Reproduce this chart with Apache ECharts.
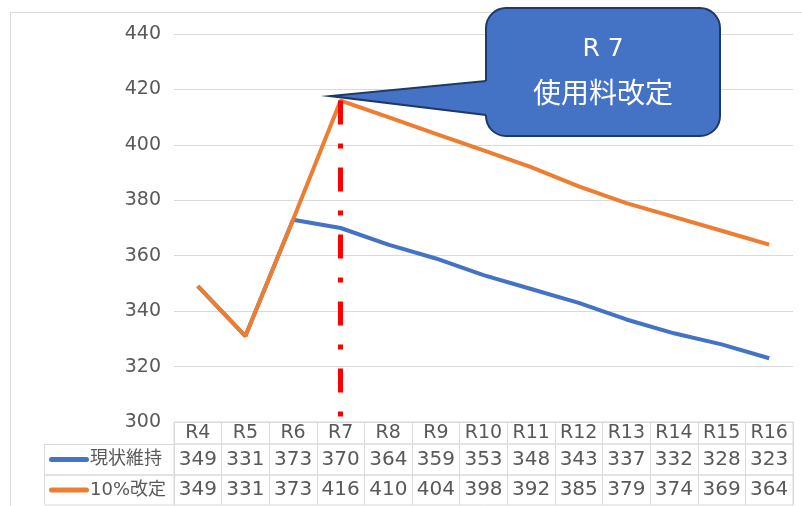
<!DOCTYPE html>
<html>
<head>
<meta charset="utf-8">
<script src="https://cdn.jsdelivr.net/npm/echarts@6/dist/echarts.min.js"></script>
<style>
  html, body { margin: 0; padding: 0; background: #fff; }
  #chart { width: 802px; height: 506px; }
</style>
</head>
<body>
<div id="chart"></div>
<script>
const categories = ['R4', 'R5', 'R6', 'R7', 'R8', 'R9', 'R10', 'R11', 'R12', 'R13', 'R14', 'R15', 'R16'];
const keepValues = [349, 331, 373, 370, 364, 359, 353, 348, 343, 337, 332, 328, 323];
const reviseValues = [349, 331, 373, 416, 410, 404, 398, 392, 385, 379, 374, 369, 364];
const seriesNames = ['現状維持', '10%改定'];
const seriesColors = ['#4472C4', '#ED7D31'];
const markCategory = 'R7';
const calloutLines = ['R 7', '使用料改定'];

const FONT = '"DejaVu Sans", "Noto Sans CJK JP", sans-serif';
const GRAY = '#595959';
const LINE = '#d9d9d9';
const NAVY = '#1F3864';

const chart = echarts.init(document.getElementById('chart'));

// table rows: header + one per series
function rowAxis(gridIndex, values, size, margin) {
  return {
    type: 'category', gridIndex: gridIndex, data: categories, boundaryGap: true,
    axisLine: {show: false}, axisTick: {show: false},
    splitLine: {show: true, interval: 0, lineStyle: {color: LINE, width: 1}},
    axisLabel: {
      interval: 0, margin: margin, verticalAlign: 'middle',
      color: GRAY, fontSize: size, fontFamily: FONT,
      formatter: (v, i) => String(values[i])
    }
  };
}

// left column of the table: legend key + series name
function rowLabelAxis(gridIndex, idx) {
  return {
    type: 'category', gridIndex: gridIndex, data: [seriesNames[idx]],
    axisLine: {show: false}, axisTick: {show: false},
    axisLabel: {
      margin: 125, align: 'left',
      formatter: (v) => '{key|}{t|' + v + '}',
      rich: {
        key: {width: 40, height: 5, backgroundColor: seriesColors[idx], borderRadius: 2.5},
        t: {fontSize: 18, color: GRAY, fontFamily: FONT, padding: [0, 0, 0, 1]}
      }
    }
  };
}

const hiddenY = (g) => ({type: 'value', gridIndex: g, show: false});

const option = {
  animation: false,
  grid: [
    {left: 174, right: 9, top: 34, bottom: 84},
    {left: 174, right: 9, top: 422, height: 22, show: true, borderColor: LINE, borderWidth: 1},
    {left: 174, right: 9, top: 444, height: 31, show: true, borderColor: LINE, borderWidth: 1},
    {left: 174, right: 9, top: 475, height: 30, show: true, borderColor: LINE, borderWidth: 1}
  ],
  xAxis: [
    {type: 'category', gridIndex: 0, data: categories, boundaryGap: true,
     axisLine: {show: false}, axisTick: {show: false}, axisLabel: {show: false}},
    rowAxis(1, categories, 19, -11),
    rowAxis(2, keepValues, 20, -15.5),
    rowAxis(3, reviseValues, 20, -15)
  ],
  yAxis: [
    {type: 'value', gridIndex: 0, min: 300, max: 440, interval: 20,
     axisLine: {show: false}, axisTick: {show: false},
     splitLine: {lineStyle: {color: LINE, width: 1}},
     axisLabel: {margin: 13, color: GRAY, fontSize: 19, fontFamily: FONT}},
    hiddenY(1),
    rowLabelAxis(2, 0),
    rowLabelAxis(3, 1)
  ],
  series: [
    {
      name: seriesNames[0], type: 'line', data: keepValues,
      symbol: 'none',
      lineStyle: {color: seriesColors[0], width: 4}
    },
    {
      name: seriesNames[1], type: 'line', data: reviseValues,
      symbol: 'none',
      lineStyle: {color: seriesColors[1], width: 4},
      markLine: {
        silent: true, symbol: 'none', label: {show: false},
        lineStyle: {color: '#ff0000', width: 5, type: [24, 19, 5, 19]},
        data: [[
          {coord: [markCategory, reviseValues[categories.indexOf(markCategory)]]},
          {coord: [markCategory, 300]}
        ]]
      }
    }
  ],
  graphic: [
    {type: 'rect', shape: {x: 10.5, y: 12.5, width: 800, height: 500},
     style: {fill: 'none', stroke: LINE, lineWidth: 1}, silent: true},
    {type: 'rect', shape: {x: 44.5, y: 444.5, width: 130, height: 30.5},
     style: {fill: 'none', stroke: LINE, lineWidth: 1}, silent: true},
    {type: 'rect', shape: {x: 44.5, y: 475, width: 130, height: 30},
     style: {fill: 'none', stroke: LINE, lineWidth: 1}, silent: true},
    // callout bubble: body, pointer fill, pointer outline
    {type: 'rect', silent: true, z: 100,
     shape: {x: 486, y: 8, width: 234, height: 128, r: 20},
     style: {fill: '#4472C4', stroke: NAVY, lineWidth: 2}},
    {type: 'polygon', silent: true, z: 101,
     shape: {points: [[330, 96], [486, 81], [491, 81], [491, 115], [486, 115]]},
     style: {fill: '#4472C4'}},
    {type: 'polyline', silent: true, z: 102,
     shape: {points: [[486, 81], [330, 96], [486, 115]]},
     style: {fill: 'none', stroke: NAVY, lineWidth: 2}},
    {type: 'text', x: 603, y: 49, z: 103, silent: true,
     style: {text: calloutLines[0], fill: '#fff', fontSize: 25, fontFamily: FONT,
             align: 'center', verticalAlign: 'middle'}},
    {type: 'text', x: 603, y: 96, z: 103, silent: true,
     style: {text: calloutLines[1], fill: '#fff', fontSize: 28, fontFamily: FONT,
             align: 'center', verticalAlign: 'middle'}}
  ]
};

chart.setOption(option);
</script>
</body>
</html>
